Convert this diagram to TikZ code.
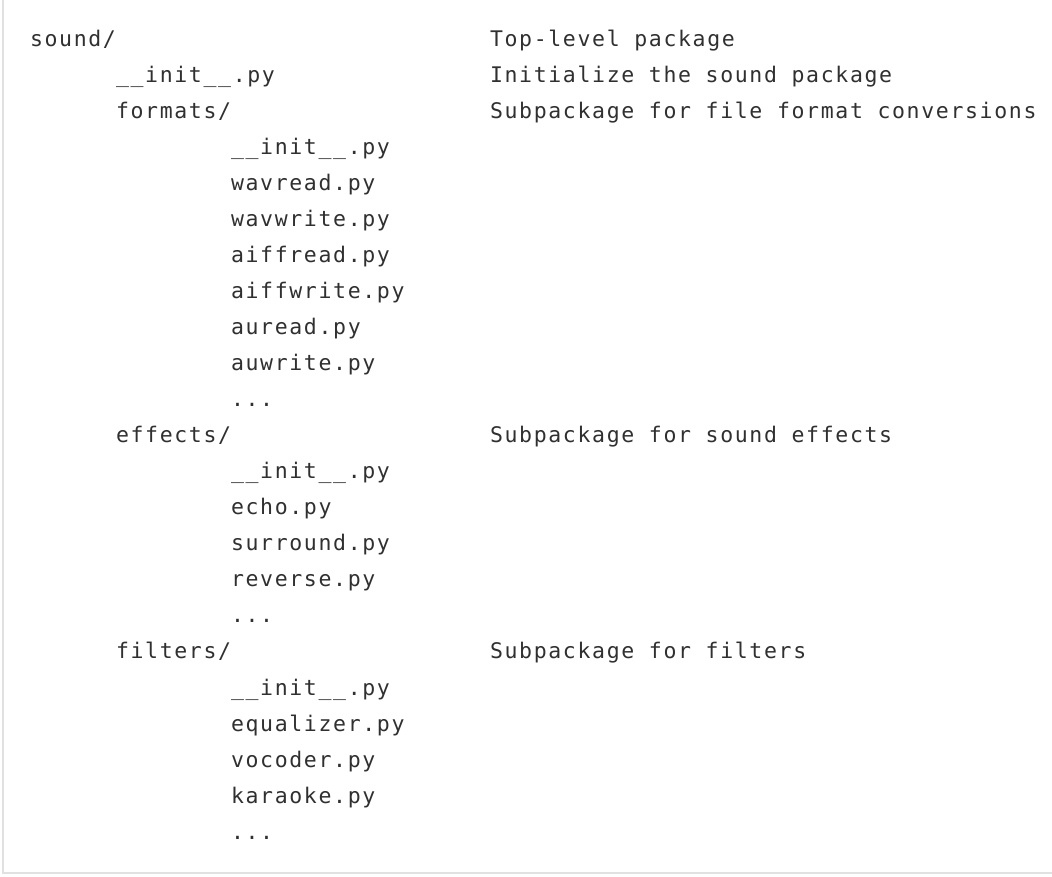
\documentclass[tikz,border=0pt]{standalone}
\usepackage{fontspec}
\newfontfamily\codefont[LetterSpace=7.7]{DejaVu Sans Mono}
\definecolor{codetext}{HTML}{303030}
\definecolor{frameline}{HTML}{E1E1E1}
\tikzset{
  code/.style={anchor=base west, inner sep=0pt, outer sep=0pt, font=\codefont\fontsize{21.5}{26}\selectfont, text=codetext},
}
\begin{document}
\begin{tikzpicture}[x=1pt,y=1pt]
\useasboundingbox (0,0) rectangle (1052,876);
\coordinate (ftop) at (3,876);
\coordinate (fcorner) at (3,3);
\coordinate (fright) at (1052,3);
\draw[frameline, line width=2pt] (ftop) -- (fcorner) -- (fright);
% column x positions: 30 (level 0), 116 (level 1), 231 (level 2), 490 (comments)
\node[code] (l0)  at (30, 876-47-36*0)  {sound/};
\node[code] (c0)  at (490,876-47-36*0)  {Top-level package};
\node[code] (l1)  at (116,876-47-36*1)  {\_\_init\_\_.py};
\node[code] (c1)  at (490,876-47-36*1)  {Initialize the sound package};
\node[code] (l2)  at (116,876-47-36*2)  {formats/};
\node[code] (c2)  at (490,876-47-36*2)  {Subpackage for file format conversions};
\node[code] (l3)  at (231,876-47-36*3)  {\_\_init\_\_.py};
\node[code] (l4)  at (231,876-47-36*4)  {wavread.py};
\node[code] (l5)  at (231,876-47-36*5)  {wavwrite.py};
\node[code] (l6)  at (231,876-47-36*6)  {aiffread.py};
\node[code] (l7)  at (231,876-47-36*7)  {aiffwrite.py};
\node[code] (l8)  at (231,876-47-36*8)  {auread.py};
\node[code] (l9)  at (231,876-47-36*9)  {auwrite.py};
\node[code] (l10) at (231,876-47-36*10) {...};
\node[code] (l11) at (116,876-47-36*11) {effects/};
\node[code] (c11) at (490,876-47-36*11) {Subpackage for sound effects};
\node[code] (l12) at (231,876-47-36*12) {\_\_init\_\_.py};
\node[code] (l13) at (231,876-47-36*13) {echo.py};
\node[code] (l14) at (231,876-47-36*14) {surround.py};
\node[code] (l15) at (231,876-47-36*15) {reverse.py};
\node[code] (l16) at (231,876-47-36*16) {...};
\node[code] (l17) at (116,876-47-36*17) {filters/};
\node[code] (c17) at (490,876-47-36*17) {Subpackage for filters};
\node[code] (l18) at (231,876-47-36*18) {\_\_init\_\_.py};
\node[code] (l19) at (231,876-47-36*19) {equalizer.py};
\node[code] (l20) at (231,876-47-36*20) {vocoder.py};
\node[code] (l21) at (231,876-47-36*21) {karaoke.py};
\node[code] (l22) at (231,876-47-36*22) {...};
\end{tikzpicture}
\end{document}
